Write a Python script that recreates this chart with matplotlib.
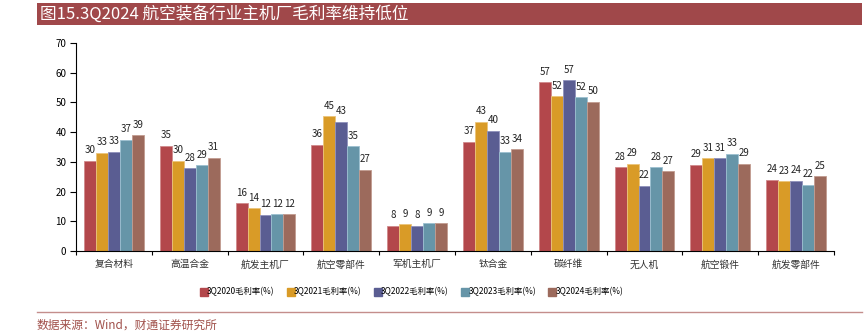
import matplotlib
matplotlib.use("Agg")
import matplotlib.pyplot as plt
import numpy as np
from matplotlib.patches import Rectangle
from matplotlib.lines import Line2D

plt.rcParams['font.family'] = ['Noto Sans CJK SC', 'DejaVu Sans']

categories = ["复合材料", "高温合金", "航发主机厂", "航空零部件", "军机主机厂",
              "钛合金", "碳纤维", "无人机", "航空锻件", "航发零部件"]
series_names = ["3Q2020毛利率(%)", "3Q2021毛利率(%)", "3Q2022毛利率(%)",
                "3Q2023毛利率(%)", "3Q2024毛利率(%)"]
q2020 = [30.4, 35.4, 16.1, 35.8, 8.4, 36.8, 56.8, 28.2, 29.1, 24.0]
q2021 = [33.1, 30.4, 14.4, 45.3, 9.0, 43.4, 52.0, 29.4, 31.2, 23.4]
q2022 = [33.3, 27.9, 12.1, 43.4, 8.4, 40.4, 57.4, 22.0, 31.2, 23.7]
q2023 = [37.4, 28.8, 12.4, 35.3, 9.3, 33.4, 51.7, 28.2, 32.8, 22.2]
q2024 = [38.9, 31.4, 12.4, 27.4, 9.4, 34.3, 50.3, 26.9, 29.4, 25.2]
series = [q2020, q2021, q2022, q2023, q2024]
colors = ["#B3474B", "#D99B27", "#5A5D92", "#6695A8", "#9C6A5C"]
edges = ["#D08A8C", "#EBC47A", "#8F91BC", "#9CC0D0", "#C29C90"]
yticks = [0, 10, 20, 30, 40, 50, 60, 70]

W, H = 866, 335
fig = plt.figure(figsize=(W / 100, H / 100), dpi=100)
ax = fig.add_axes([76 / W, 1 - 251 / H, (834 - 76) / W, (251 - 43) / H])

x = np.arange(len(categories))
bw = 0.158
for i, (vals, c, ec) in enumerate(zip(series, colors, edges)):
    pos = x + (i - 2) * bw
    ax.bar(pos, vals, width=bw, color=c, edgecolor=ec, linewidth=0.6,
           label=series_names[i], zorder=2)
    for p, v in zip(pos, vals):
        ax.annotate(f"{v:.0f}", (p, v), xytext=(0, 4), textcoords="offset points",
                    ha="center", va="bottom", fontsize=7, color="#222222")

ax.set_xlim(-0.5, len(categories) - 0.5)
ax.set_ylim(0, 70)
ax.set_yticks(yticks)
ax.tick_params(axis='y', labelsize=7, length=4, width=0.8, direction='out', pad=3)
ax.set_xticks(x)
ax.set_xticklabels(categories, fontsize=7, color="#333333")
ax.tick_params(axis='x', length=0, pad=6)
ax.set_xticks(np.arange(-0.5, len(categories), 1.0), minor=True)
ax.tick_params(axis='x', which='minor', length=3, width=0.8, direction='out')
for s in ["top", "right"]:
    ax.spines[s].set_visible(False)
ax.spines["left"].set_linewidth(0.8)
ax.spines["bottom"].set_linewidth(0.8)

handles = [Line2D([], [], marker='s', linestyle='', markersize=5.5, markerfacecolor=c,
                  markeredgecolor=c) for c in colors]
fig.legend(handles, series_names, loc="center", bbox_to_anchor=(412 / W, 1 - 292 / H),
           ncol=5, frameon=False, fontsize=6, handlelength=0.7, handletextpad=0.05,
           columnspacing=1.6)

# Title band
fig.patches.append(Rectangle((37 / W, 1 - 25 / H), (862 - 37) / W, 22 / H,
                             transform=fig.transFigure, facecolor="#A0484A",
                             edgecolor="none", zorder=0))
fig.text(40 / W, 1 - 14 / H, "图15.3Q2024 航空装备行业主机厂毛利率维持低位",
         color="white", fontsize=12, va="center", ha="left")

# Separator line and source
fig.add_artist(Line2D([37 / W, 862 / W], [1 - 312 / H, 1 - 312 / H],
                      transform=fig.transFigure, color="#C48E8C", linewidth=1))
fig.text(37 / W, 1 - 325 / H, "数据来源：Wind，财通证券研究所", color="#A0504A",
         fontsize=8.5, va="center", ha="left")

fig.savefig("out.png", dpi=100)
